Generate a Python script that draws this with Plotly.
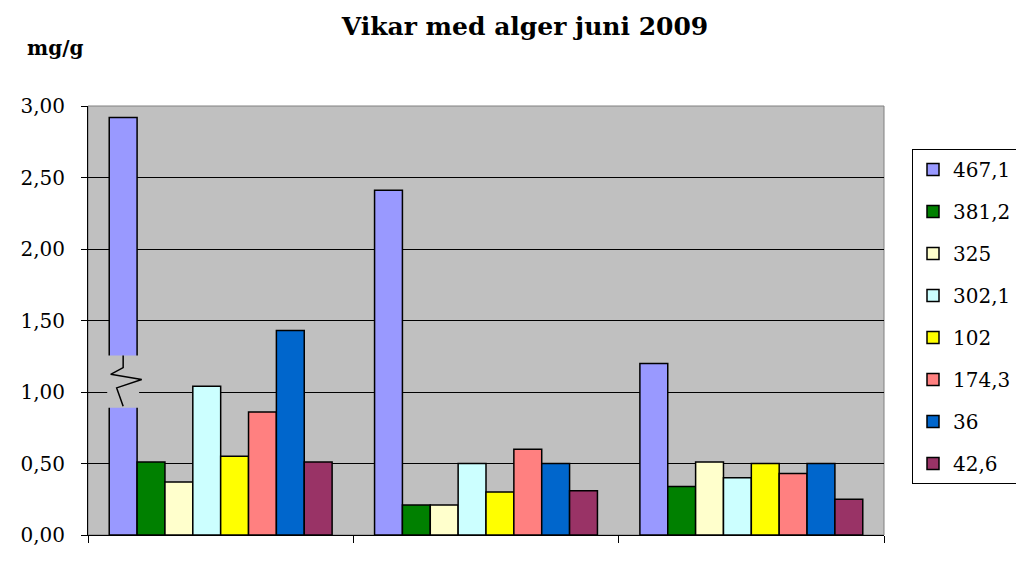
import plotly.graph_objects as go

title_text = "Vikar med alger juni 2009"
unit_label = "mg/g"
categories = [0, 1, 2]
series_names = ["467,1", "381,2", "325", "302,1", "102", "174,3", "36", "42,6"]
series_values = [
    [2.92, 2.41, 1.20],
    [0.51, 0.21, 0.34],
    [0.37, 0.21, 0.51],
    [1.04, 0.50, 0.40],
    [0.55, 0.30, 0.50],
    [0.86, 0.60, 0.43],
    [1.43, 0.50, 0.50],
    [0.51, 0.31, 0.25],
]
colors = ["#9999FF", "#008000", "#FFFFCC", "#CCFFFF", "#FFFF00", "#FF8080", "#0066CC", "#993366"]
y_ticks = [0, 0.5, 1.0, 1.5, 2.0, 2.5, 3.0]
x_boundaries = [-0.5, 0.5, 1.5, 2.5]

# axis break on the first bar (visual only)
break_low = 0.89
break_high = 1.255

BARGAP = 0.16
PLOT_BG = "#C0C0C0"
FONT = "DejaVu Serif"

fig = go.Figure()
for i, (name, vals, col) in enumerate(zip(series_names, series_values, colors)):
    fig.add_trace(go.Bar(
        x=categories, y=vals, name=name,
        marker=dict(color=col, line=dict(color="black", width=1.5)),
        legendgroup=name,
    ))

# break decoration on first bar of first group
n = len(series_names)
slot = (1 - BARGAP) / n
cx = categories[0] - (1 - BARGAP) / 2 + slot / 2
hw = slot / 2
px = 1 / 265.0
fig.add_trace(go.Scatter(
    x=[cx - hw - 2 * px, cx + hw + 2 * px, cx + hw + 2 * px, cx - hw - 2 * px, cx - hw - 2 * px],
    y=[break_low, break_low, break_high, break_high, break_low],
    fill="toself", fillcolor=PLOT_BG, mode="lines", line=dict(width=0, color=PLOT_BG),
    showlegend=False, hoverinfo="skip",
))
zx = [0, 0, -0.047, 0.070, -0.0245, 0]
zy_frac = [1.0, 0.77, 0.64, 0.54, 0.38, 0.03]
fig.add_trace(go.Scatter(
    x=[cx + d for d in zx],
    y=[break_low + f * (break_high - break_low) for f in zy_frac],
    mode="lines", line=dict(color="black", width=1.5),
    showlegend=False, hoverinfo="skip",
))

OFF = 8  # page body margin
W, H = 1024 - OFF, 561 - OFF
L, T = 88 - OFF, 106 - OFF
R = W - (884 - OFF)
B = H - (535 - OFF)
pw, ph = W - L - R, H - T - B

fig.update_layout(
    width=W, height=H,
    margin=dict(l=L, r=R, t=T, b=B, autoexpand=False),
    paper_bgcolor="white", plot_bgcolor=PLOT_BG,
    barmode="group", bargap=BARGAP, bargroupgap=0,
    separators=", ",
    font=dict(family=FONT, color="black", size=20),
    title=dict(text="<b>" + title_text + "</b>", x=(525 - OFF) / W, xanchor="center",
               y=1 - (26 - OFF) / H, yanchor="middle", yref="container",
               font=dict(family=FONT, size=25, color="black")),
    showlegend=True,
    legend=dict(x=(912 - 88) / pw, y=(535 - 149) / ph, xanchor="left", yanchor="top",
                bgcolor="white", bordercolor="black", borderwidth=1,
                font=dict(family=FONT, size=20, color="black"),
                traceorder="grouped", tracegroupgap=13),
    xaxis=dict(showticklabels=False, ticks="outside", ticklen=7, tickcolor="black",
               tickvals=x_boundaries, showline=True, linecolor="black", linewidth=1,
               showgrid=False, zeroline=False, range=[x_boundaries[0], x_boundaries[-1]]),
    yaxis=dict(range=[0, 3], tickvals=y_ticks, tickformat=".2f", ticks="outside",
               ticklen=6, tickcolor="black", showline=True, linecolor="black",
               linewidth=1, showgrid=True, gridcolor="black", gridwidth=1,
               zeroline=False, ticklabelstandoff=12,
               tickfont=dict(family=FONT, size=20, color="black")),
    shapes=[dict(type="rect", xref="paper", yref="paper", x0=0, x1=1, y0=0, y1=1,
                 line=dict(color="#808080", width=1), layer="below")],
    annotations=[dict(text="<b>" + unit_label + "</b>", xref="paper", yref="paper",
                      x=(25 - 88) / pw, y=(535 - 48) / ph, xanchor="left", yanchor="middle",
                      showarrow=False, font=dict(family=FONT, size=20, color="black"))],
)

fig.write_html("out.html")
